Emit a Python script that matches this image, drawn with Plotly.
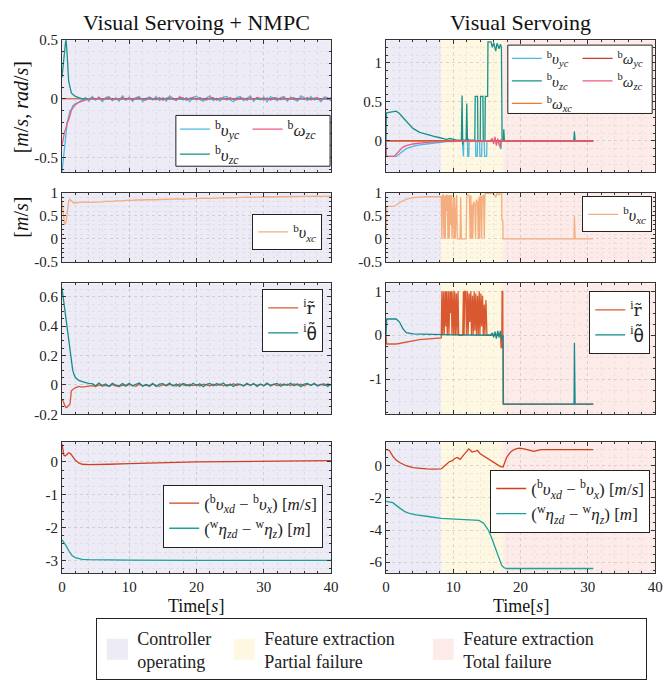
import plotly.graph_objects as go

W, H = 671, 685
FONT = "Liberation Serif"

# ---------------- data: left column (Visual Servoing + NMPC) ----------------
tL = [0, 0.2, 0.4, 0.6, 0.8, 1.0, 1.2, 1.4, 1.6, 1.8, 2.0, 2.5, 3.0, 3.5, 4.0,
      4.5, 5.0, 5.5, 6.0, 6.5, 7.0, 7.5, 8.0, 8.5, 9.0, 9.5, 10.0,
      10.5, 11.0, 11.5, 12.0, 12.5, 13.0, 13.5, 14.0, 14.5, 15.0, 15.5, 16.0,
      16.5, 17.0, 17.5, 18.0, 18.5, 19.0, 19.5, 20.0, 20.5, 21.0, 21.5, 22.0,
      22.5, 23.0, 23.5, 24.0, 24.5, 25.0, 25.5, 26.0, 26.5, 27.0, 27.5, 28.0,
      28.5, 29.0, 29.5, 30.0, 30.5, 31.0, 31.5, 32.0, 32.5, 33.0, 33.5, 34.0,
      34.5, 35.0, 35.5, 36.0, 36.5, 37.0, 37.5, 38.0, 38.5, 39.0, 39.5, 40.0]

vyc_L = [-0.63, -0.5, -0.38, -0.3, -0.2, -0.15, -0.1, -0.09, -0.06, -0.05, -0.04, -0.03, -0.01, 0.01, -0.02,
         0.02, -0.01, 0.015, -0.025, 0.01, 0.02, -0.015, 0.005, -0.02, 0.025, -0.01, 0.015,
         -0.02, 0.01, 0.02, -0.025, 0.005, 0.015, -0.01, 0.02, -0.015, 0.01, -0.02, 0.025,
         0.005, -0.015, 0.02, -0.01, 0.01, -0.025, 0.015, 0.02, -0.005, -0.02, 0.01, 0.025,
         -0.015, 0.005, -0.02, 0.015, 0.02, -0.01, -0.025, 0.01, 0.02, -0.015, 0.005, 0.025,
         -0.02, 0.01, -0.01, 0.015, -0.025, 0.02, 0.005, -0.015, 0.01, 0.02, -0.02, 0.015,
         -0.005, -0.02, 0.025, 0.01, -0.015, 0.02, -0.01, 0.005, -0.025, 0.015, 0.01, -0.02]

wzc_L = [-0.4, -0.33, -0.28, -0.25, -0.2, -0.18, -0.13, -0.1, -0.08, -0.06, -0.05, -0.03, -0.02, -0.01, -0.005,
         0.01, -0.008, 0.012, -0.01, 0.005, 0.01, -0.012, 0.008, -0.005, 0.012, -0.01, 0.006,
         -0.012, 0.008, 0.01, -0.006, -0.01, 0.012, 0.004, -0.008, 0.01, -0.012, 0.006, 0.01,
         -0.004, -0.01, 0.012, 0.008, -0.012, 0.005, 0.01, -0.008, 0.012, -0.005, -0.01, 0.008,
         0.01, -0.012, 0.006, 0.008, -0.01, 0.012, -0.006, -0.008, 0.01, 0.004, -0.012, 0.01,
         -0.008, 0.012, 0.005, -0.01, 0.008, -0.012, 0.01, 0.006, -0.008, 0.012, -0.01, 0.005,
         0.01, -0.012, 0.008, -0.004, 0.012, -0.01, 0.006, 0.01, -0.012, 0.008, -0.006, 0.01]

tL_fast = [0, 0.2, 0.4, 0.6, 0.8, 1.0, 1.2, 1.4, 1.6, 1.8, 2.0, 2.5, 3.0, 3.5, 4.0, 40.0]
vzc_L = [0.18, 0.3, 0.45, 0.52, 0.35, 0.15, 0.1, 0.05, 0.04, 0.03, 0.02, 0.01, 0.0, 0.0, 0.0, 0.0]

t_ref_L = [0, 40]
wyc_L = [0, 0]

vxc_L = [0.8, 0.55, 0.3, 0.35, 0.6, 0.82, 0.85, 0.82, 0.8, 0.77, 0.78, 0.79, 0.8, 0.8, 0.79,
         0.79, 0.8, 0.795, 0.8, 0.81, 0.805, 0.81, 0.82, 0.815, 0.82, 0.83, 0.825,
         0.83, 0.84, 0.835, 0.84, 0.845, 0.84, 0.85, 0.845, 0.85, 0.855, 0.85, 0.86,
         0.855, 0.86, 0.865, 0.86, 0.87, 0.865, 0.87, 0.875, 0.87, 0.875, 0.88, 0.875,
         0.88, 0.885, 0.88, 0.885, 0.89, 0.885, 0.89, 0.895, 0.89, 0.895, 0.9, 0.895,
         0.9, 0.905, 0.9, 0.905, 0.91, 0.905, 0.91, 0.905, 0.91, 0.915, 0.91, 0.915,
         0.915, 0.92, 0.915, 0.92, 0.92, 0.925, 0.92, 0.925, 0.92, 0.925, 0.93, 0.925]

r_L = [-0.1, -0.11, -0.14, -0.155, -0.15, -0.14, -0.13, -0.04, -0.03, -0.025, -0.02, -0.01, -0.015, -0.01, -0.01,
       -0.005, -0.012, 0.0, -0.008, -0.003, -0.01, 0.002, -0.006, -0.012, -0.002, -0.008, 0.003,
       -0.004, -0.01, 0.004, -0.006, -0.002, -0.009, 0.005, -0.004, -0.01, 0.002, -0.006, 0.004,
       -0.003, -0.008, 0.006, -0.002, -0.007, 0.004, -0.005, 0.003, -0.008, 0.005, -0.002, -0.006,
       0.004, -0.004, 0.006, -0.007, 0.002, -0.003, 0.007, -0.005, 0.003, -0.006, 0.005, -0.002,
       0.006, -0.004, 0.003, -0.006, 0.007, -0.002, 0.004, -0.005, 0.006, -0.003, 0.005, -0.004,
       0.007, -0.002, 0.004, -0.006, 0.005, -0.001, 0.006, -0.004, 0.003, -0.005, 0.006, 0.0]

th_L = [0.66, 0.6, 0.52, 0.45, 0.38, 0.3, 0.22, 0.15, 0.1, 0.07, 0.05, 0.03, 0.02, 0.015, 0.01,
        0.008, -0.006, 0.012, -0.004, 0.006, -0.01, 0.01, -0.002, -0.008, 0.009, -0.005, 0.011,
        -0.007, 0.004, 0.012, -0.009, 0.003, -0.006, 0.01, -0.011, 0.005, 0.008, -0.004, 0.012,
        -0.008, 0.006, -0.01, 0.009, 0.002, -0.007, 0.011, -0.005, 0.007, -0.012, 0.004, 0.01,
        -0.006, 0.009, -0.003, 0.012, -0.009, 0.005, -0.011, 0.007, 0.003, -0.008, 0.011, -0.004,
        0.009, -0.01, 0.006, -0.005, 0.012, -0.007, 0.004, 0.01, -0.009, 0.006, -0.003, 0.011,
        -0.006, 0.008, -0.012, 0.005, 0.009, -0.004, 0.01, -0.008, 0.003, 0.007, -0.01, 0.004]

t_e1_L = [0, 0.1, 0.3, 0.5, 0.8, 1.0, 1.3, 1.6, 2.0, 2.5, 3.0, 4.0, 5.0, 7.0, 10, 15, 20, 25, 30, 35, 40]
e1_L = [0.55, 0.4, 0.2, 0.18, 0.25, 0.28, 0.25, 0.15, 0.05, -0.03, -0.07, -0.08, -0.08, -0.07, -0.05,
        -0.02, 0.0, 0.01, 0.02, 0.03, 0.04]
t_e2_L = [0, 0.3, 0.6, 1.0, 1.5, 2.0, 2.5, 3.0, 4.0, 6.0, 10, 20, 30, 40]
e2_L = [-2.37, -2.45, -2.55, -2.7, -2.85, -2.92, -2.95, -2.97, -2.98, -2.99, -2.99, -3.0, -3.0, -3.0]

# ---------------- data: right column (Visual Servoing) ----------------
t_vyc_R = [0, 0.05, 1.5, 2.0, 2.5, 3.0, 4.0, 5.0, 6.0, 7.0,
           8.0, 9.0, 10.0, 10.5, 11.35, 11.4, 11.5, 11.55, 12.1, 12.15,
           12.3, 12.35, 13.3, 13.35, 13.55, 13.6, 13.9, 13.95, 14.2, 14.25,
           14.6, 14.65, 14.95, 15.0, 16.9, 17.0, 17.1, 17.15, 30.8]
vyc_R = [0, -0.2, -0.2, -0.17, -0.13, -0.1, -0.07, -0.05, -0.04, -0.03,
         -0.02, -0.01, -0.01, 0.0, 0.0, -0.2, -0.2, 0.0, 0.0, -0.2,
         -0.2, 0.0, 0.0, -0.2, -0.2, 0.0, 0.0, -0.2, -0.2, 0.0,
         0.0, -0.2, -0.2, 0.0, 0.0, -0.1, -0.1, 0.0, 0.0]

t_vzc_R = [0, 0.05, 1.5, 2.0, 2.5, 3.0, 3.5, 4.0, 5.0, 6.0,
           7.0, 8.0, 8.5, 9.0, 9.5, 10.0, 10.5, 11.2, 11.3, 11.4,
           11.5, 11.9, 12.0, 12.1, 12.2, 12.3, 13.2, 13.25, 13.6, 13.65,
           14.0, 14.05, 14.4, 14.45, 14.7, 14.75, 15.1, 15.15, 15.6, 15.8,
           16.0, 16.3, 16.5, 16.8, 17.0, 17.15, 17.25, 17.45, 17.5, 17.6,
           27.9, 28.0, 28.1, 30.8]
vzc_R = [0, 0.36, 0.38, 0.35, 0.3, 0.25, 0.2, 0.16, 0.11, 0.08,
         0.06, 0.04, 0.03, 0.02, 0.03, 0.02, 0.01, 0.01, 0.58, -0.05,
         0.01, 0.01, 0.48, 0.0, 0.02, 0.01, 0.01, 0.57, 0.57, 0.0,
         0.0, 0.57, 0.57, 0.0, 0.0, 0.57, 0.57, 1.27, 1.27, 1.2,
         1.26, 1.15, 1.25, 1.18, 1.24, 1.2, 0.0, 0.0, 0.15, 0.0,
         0.0, 0.12, 0.0, 0.0]

t_flat_R = [0, 30.8]
wxc_R = [0, 0]
wyc_R = [0, 0]

t_wzc_R = [0, 0.05, 1.2, 1.8, 2.5, 3.0, 4.0, 6.0, 8.0, 10, 15.5, 15.8, 16.0, 16.2, 16.4, 16.6, 16.8, 17.0, 17.1, 17.3, 30.8]
wzc_R = [0, -0.2, -0.2, -0.15, -0.08, -0.06, -0.04, -0.02, -0.01, 0, 0, 0.03, -0.04, 0.05, -0.06, 0.03, -0.05, -0.08, 0.02, 0, 0]

t_vxc_R = [0, 0.1, 1.2, 2.0, 3.0, 4.0, 5.0, 6.0, 8.2,
           8.3, 8.4, 8.5, 8.6, 8.7, 8.8, 8.9, 9.0, 9.1, 9.2,
           9.3, 9.4, 9.5, 9.6, 9.7, 9.8, 9.9, 10.0, 10.1, 10.2,
           10.3, 10.5, 10.6, 11.0, 11.1, 11.2, 11.9, 12.0, 12.2, 12.4,
           12.5, 12.6, 12.7, 12.8, 12.9, 13.0, 13.2, 13.3, 13.4, 13.6,
           13.7, 13.8, 13.9, 14.0, 14.1, 14.2, 14.3, 14.5, 14.6, 14.7,
           14.8, 15.5, 15.8, 16.0, 16.3, 16.5, 16.8, 17.0, 17.2, 17.22,
           17.35, 17.4, 27.95, 28.0, 28.1, 30.8]
vxc_R = [0, 0.7, 0.7, 0.78, 0.86, 0.89, 0.9, 0.91, 0.91,
         0, 0.95, 0.95, 0, 0.93, 0, 0.95, 0.6, 0.95, 0,
         0.94, 0, 0.95, 0.3, 0.95, 0, 0.92, 0.95, 0, 0.9,
         0, 0.95, 0, 0, 0.9, 0, 0, 0.92, 0.95, 0.9,
         0, 0.95, 0, 0.75, 0, 0.8, 0.75, 0, 0.85, 0.8,
         0, 0.9, 0, 0.95, 0.9, 0, 0.92, 0.95, 0, 0.95,
         0.99, 0.98, 1.0, 0.97, 0.9, 0.99, 0.95, 0.97, 0.97, 0.42,
         0.4, 0, 0, 0.5, 0, 0]

t_r_R = [0, 0.1, 1.5, 3.0, 5.0, 8.2,
         8.3, 8.4, 8.55, 8.65, 8.8, 8.9, 9.0, 9.1, 9.25, 9.35,
         9.5, 9.6, 9.7, 9.8, 9.95, 10.05, 10.2, 10.3, 10.45, 10.55,
         10.7, 10.8, 11.4, 11.5, 11.6, 11.7, 11.85, 11.95, 12.1, 12.2,
         12.35, 12.45, 12.6, 12.7, 12.85, 12.95, 13.1, 13.2, 13.35, 13.45,
         13.6, 13.7, 13.85, 13.95, 14.1, 14.2, 14.35, 14.45, 14.6, 14.7,
         14.85, 15.0, 17.0, 17.1, 17.2, 17.25, 17.35, 17.4, 30.8]
r_R = [0, -0.2, -0.2, -0.15, -0.1, -0.06,
       1.0, 0.0, 1.0, 0.0, 1.0, 0.2, 1.0, 0.0, 1.0, 0.0,
       1.0, 0.5, 1.0, 0.0, 1.0, 0.0, 1.0, 0.0, 0.95, 0.0,
       1.0, 0.0, 0.0, 1.0, 0.0, 1.0, 1.0, 0.0, 1.0, 0.0,
       0.95, 0.3, 1.0, 0.0, 0.9, 0.0, 1.0, 0.1, 0.95, 0.0,
       0.9, 0.0, 1.0, 0.0, 0.95, 0.2, 0.9, 0.0, 0.7, 0.0,
       0.8, 0.0, 0.0, -0.28, -0.28, 1.0, 1.0, -1.57, -1.57]

t_th_R = [0, 0.1, 1.5, 2.0, 2.5, 3.0, 4.0, 6.0, 8.0, 10.0, 15.5, 15.8, 16.0, 16.2, 16.4, 16.6, 16.8,
          17.0, 17.2, 17.4, 17.45, 27.95, 28.0, 28.1, 30.8]
th_R = [0, 0.37, 0.37, 0.3, 0.15, 0.06, 0.03, 0.02, 0.02, 0.01, 0.0, 0.05, -0.05, 0.08, -0.08, 0.1, -0.05,
        0.1, -0.1, 0.0, -1.57, -1.57, -0.17, -1.57, -1.57]

t_e1_R = [0, 0.5, 1.0, 1.5, 2.0, 3.0, 4.0, 5.0, 6.0, 7.0,
          8.2, 8.6, 9.0, 9.4, 9.8, 10.2, 10.6, 11.0, 11.4, 11.8,
          12.3, 12.8, 13.2, 13.6, 14.0, 14.5, 15.0, 15.5, 16.0, 16.5,
          17.0, 17.4, 17.9, 18.4, 18.8, 19.3, 19.8, 20.5, 21.2, 22.0,
          23.0, 25.0, 28.0, 30.8]
e1_R = [1.0, 0.95, 0.6, 0.35, 0.2, 0.0, -0.12, -0.18, -0.2, -0.21,
        -0.2, -0.05, 0.12, 0.25, 0.3, 0.45, 0.52, 0.4, 0.6, 0.78,
        1.05, 0.85, 0.9, 0.95, 0.75, 0.62, 0.45, 0.35, 0.2, 0.05,
        -0.05, -0.08, 0.5, 0.8, 0.95, 1.05, 1.1, 1.05, 0.98, 0.9,
        1.0, 1.0, 1.0, 1.0]
t_e2_R = [0, 1.0, 2.0, 2.8, 3.5, 4.5, 6.0, 8.2, 11.0, 13.8, 14.5, 15.2, 15.7, 16.2, 16.6, 16.9, 17.2, 17.5, 17.9, 30.8]
e2_R = [-2.22, -2.3, -2.62, -2.85, -2.97, -3.06, -3.14, -3.27, -3.33, -3.4, -3.57, -4.0, -4.5, -5.06, -5.55,
        -5.9, -6.2, -6.33, -6.39, -6.39]

# phases (background regions)
phase_names = ["Controller<br>operating", "Feature extraction<br>Partial failure", "Feature extraction<br>Total failure"]
phase_start_L = [0]
phase_end_L = [40]
phase_start_R = [0, 8.2, 17.4]
phase_end_R = [8.2, 17.4, 40]

# axis ticks
x_ticks = [0, 10, 20, 30, 40]
x_ticktext = ["0", "10", "20", "30", "40"]
y_ticks = {1: [-0.5, 0, 0.5], 2: [0, 0.5, 1], 3: [-0.5, 0, 0.5, 1], 4: [-0.5, 0, 0.5, 1],
           5: [-0.2, 0, 0.2, 0.4, 0.6], 6: [-1, 0, 1], 7: [-3, -2, -1, 0], 8: [-6, -4, -2, 0]}
y_ticktext = {1: ["-0.5", "0", "0.5"], 2: ["0", "0.5", "1"], 3: ["-0.5", "0", "0.5", "1"],
              4: ["-0.5", "0", "0.5", "1"], 5: ["-0.2", "0", "0.2", "0.4", "0.6"], 6: ["-1", "0", "1"],
              7: ["-3", "-2", "-1", "0"], 8: ["-6", "-4", "-2", "0"]}

# ---------------- styling ----------------
phase_colors = ["#ecebf6", "#fef8e3", "#fcebe8"]
phase_legend_widths = [82, 154, 178]
C = dict(vyc="#4db8e6", vzc="#17918a", wxc="#f07b2f", wyc="#c8402a", wzc="#ec5a7c",
         vxc="#f4ad7f", r="#d9582f", th="#15898c", e1="#d0401f", e2="#18a39c")
y_ranges = {1: [-0.625, 0.5], 2: [-0.4, 1.29], 3: [-0.5, 1], 4: [-0.5, 1],
            5: [-0.2, 0.69], 6: [-1.8, 1.18], 7: [-3.4, 0.62], 8: [-6.7, 1.5]}
y_minor = {1: 0.1, 2: 0.1, 3: 0.1, 4: 0.1, 5: 0.05, 6: 0.25, 7: 0.25, 8: 0.5}

col_px = [(59, 333), (389, 663)]
row_px = [(33, 168), (189, 260), (282, 416), (444, 579)]


def axn(k):
    return "" if k == 1 else str(k)


fig = go.Figure()


def lab(sup, base, sub):
    return f"<sup>{sup}</sup><i>{base}</i><sub><i>{sub}</i></sub>"


def til(base, fam):
    return "<sup>i</sup><span style='font-family:" + fam + "'>" + base + "</span>"


R_TIL = til("r\u0303", "DejaVu Serif")
TH_TIL = til("\u03b8\u0303", "DejaVu Sans")


def add(t, y, k, name, color, legend, show=True, width=1.3):
    fig.add_trace(go.Scatter(x=t, y=y, mode="lines", name=name, line=dict(color=color, width=width),
                             xaxis="x" + axn(k), yaxis="y" + axn(k), legend=legend, showlegend=show,
                             hoverinfo="skip"))


E1 = "(" + lab("b", "υ", "xd") + " − " + lab("b", "υ", "x") + ") [<i>m</i>/<i>s</i>]"
E2 = "(" + lab("w", "η", "zd") + " − " + lab("w", "η", "z") + ") [<i>m</i>]"

# left column
add(t_ref_L, wyc_L, 1, lab("b", "ω", "yc"), C["wyc"], "legend2", show=False, width=1.0)
add(tL, vyc_L, 1, lab("b", "υ", "yc"), C["vyc"], "legend2")
add(tL_fast, vzc_L, 1, lab("b", "υ", "zc"), C["vzc"], "legend2")
add(tL, wzc_L, 1, lab("b", "ω", "zc"), C["wzc"], "legend3")
add(tL, vxc_L, 3, lab("b", "υ", "xc"), C["vxc"], "legend4")
add(tL, r_L, 5, R_TIL, C["r"], "legend5")
add(tL, th_L, 5, TH_TIL, C["th"], "legend5")
add(t_e1_L, e1_L, 7, E1, C["e1"], "legend6")
add(t_e2_L, e2_L, 7, E2, C["e2"], "legend6")

# right column
add(t_vyc_R, vyc_R, 2, lab("b", "υ", "yc"), C["vyc"], "legend7")
add(t_vzc_R, vzc_R, 2, lab("b", "υ", "zc"), C["vzc"], "legend7")
add(t_flat_R, wxc_R, 2, lab("b", "ω", "xc"), C["wxc"], "legend7")
add(t_flat_R, wyc_R, 2, lab("b", "ω", "yc"), C["wyc"], "legend8")
add(t_wzc_R, wzc_R, 2, lab("b", "ω", "zc"), C["wzc"], "legend8")
add(t_vxc_R, vxc_R, 4, lab("b", "υ", "xc"), C["vxc"], "legend9")
add(t_r_R, r_R, 6, R_TIL, C["r"], "legend10")
add(t_th_R, th_R, 6, TH_TIL, C["th"], "legend10")
add(t_e1_R, e1_R, 8, E1, C["e1"], "legend11")
add(t_e2_R, e2_R, 8, E2, C["e2"], "legend11")

# phase legend entries
for name, col, lw in zip(phase_names, phase_colors, phase_legend_widths):
    fig.add_trace(go.Scatter(x=[None], y=[None], mode="markers", name=name, legendwidth=lw,
                             marker=dict(symbol="square", size=16, color=col, line=dict(color=col, width=5)),
                             xaxis="x", yaxis="y", legend="legend", showlegend=True, hoverinfo="skip"))

layout = dict(width=W, height=H, margin=dict(l=0, r=0, t=0, b=0),
              paper_bgcolor="white", plot_bgcolor="white", showlegend=True,
              font=dict(family=FONT, size=14, color="#222"))

shapes = []
grid = "rgba(150,150,150,0.22)"
grid_minor = "rgba(150,150,150,0.13)"
for r in range(4):
    for c in range(2):
        k = 2 * r + c + 1
        x0, x1 = col_px[c]
        y0, y1 = row_px[r]
        layout["xaxis" + axn(k)] = dict(
            domain=[x0 / W, x1 / W], anchor="y" + axn(k), range=[0, 40],
            tickvals=x_ticks, ticktext=x_ticktext, showticklabels=(r == 3),
            ticks="inside", ticklen=4, tickcolor="#333", showline=True, linecolor="#333",
            linewidth=1, mirror="allticks", zeroline=False,
            showgrid=True, gridcolor=grid, griddash="dot", gridwidth=1,
            tickfont=dict(family=FONT, size=15, color="#222"),
            minor=dict(dtick=2, ticks="inside", ticklen=2, tickcolor="#333",
                       showgrid=True, gridcolor=grid_minor, griddash="dot"))
        layout["yaxis" + axn(k)] = dict(
            domain=[1 - y1 / H, 1 - y0 / H], anchor="x" + axn(k), range=y_ranges[k],
            tickvals=y_ticks[k], ticktext=y_ticktext[k],
            ticks="inside", ticklen=4, tickcolor="#333", showline=True, linecolor="#333",
            linewidth=1, mirror="allticks", zeroline=False,
            showgrid=True, gridcolor=grid, griddash="dot", gridwidth=1,
            tickfont=dict(family=FONT, size=15, color="#222"),
            minor=dict(dtick=y_minor[k], ticks="inside", ticklen=2, tickcolor="#333",
                       showgrid=True, gridcolor=grid_minor, griddash="dot"))
        starts = phase_start_L if c == 0 else phase_start_R
        ends = phase_end_L if c == 0 else phase_end_R
        for i, (a, b) in enumerate(zip(starts, ends)):
            shapes.append(dict(type="rect", xref="x" + axn(k), yref="y" + axn(k) + " domain",
                               x0=a, x1=b, y0=0, y1=1,
                               fillcolor=phase_colors[i], line=dict(width=0), layer="below"))

# boxes for the two-column legends
for (bx0, by0, bx1, by1) in [(175, 110, 332, 162), (513, 38, 660, 108)]:
    shapes.append(dict(type="rect", xref="paper", yref="paper", x0=bx0 / W, x1=bx1 / W,
                       y0=1 - by1 / H, y1=1 - by0 / H, fillcolor="white",
                       line=dict(color="#222", width=1), layer="above"))
layout["shapes"] = shapes


def leg(xp, yp, xanchor="left", box=True, size=17):
    return dict(x=xp / W, y=1 - yp / H, xanchor=xanchor, yanchor="top", xref="paper", yref="paper",
                font=dict(family=FONT, size=size, color="#222"),
                bgcolor="white" if box else "rgba(0,0,0,0)",
                bordercolor="#222", borderwidth=1 if box else 0, tracegroupgap=0, itemwidth=30)


layout["legend2"] = leg(174, 106, box=False)
layout["legend3"] = leg(248, 106, box=False)
layout["legend4"] = leg(324, 211, xanchor="right", size=16)
layout["legend5"] = leg(325, 288, xanchor="right")
layout["legend6"] = leg(325, 488, xanchor="right")
layout["legend7"] = leg(512, 35, box=False, size=15)
layout["legend8"] = leg(584, 35, box=False, size=15)
layout["legend9"] = leg(660, 193, xanchor="right", size=16)
layout["legend10"] = leg(658, 290, xanchor="right")
layout["legend11"] = leg(658, 473, xanchor="right")
layout["legend"] = dict(x=94 / W, y=1 - 625 / H, xanchor="left", yanchor="top", orientation="h",
                        xref="paper", yref="paper", font=dict(family=FONT, size=18, color="#222"),
                        bgcolor="white", bordercolor="#222", borderwidth=1, itemwidth=30,
                        itemsizing="trace", valign="middle")

ann = []
ann.append(dict(text="Visual Servoing + NMPC", x=196 / W, y=1 - 15 / H, xref="paper", yref="paper",
                showarrow=False, font=dict(family=FONT, size=22, color="#111"),
                xanchor="center", yanchor="middle"))
ann.append(dict(text="Visual Servoing", x=526 / W, y=1 - 15 / H, xref="paper", yref="paper",
                showarrow=False, font=dict(family=FONT, size=22, color="#111"),
                xanchor="center", yanchor="middle"))
ann.append(dict(text="[<i>m</i>/<i>s</i>, <i>rad</i>/<i>s</i>]", x=17 / W, y=1 - 102 / H, xref="paper",
                yref="paper", showarrow=False, textangle=-90, xanchor="center", yanchor="middle",
                font=dict(family=FONT, size=20, color="#111")))
ann.append(dict(text="[<i>m</i>/<i>s</i>]", x=17 / W, y=1 - 214 / H, xref="paper",
                yref="paper", showarrow=False, textangle=-90, xanchor="center", yanchor="middle",
                font=dict(family=FONT, size=20, color="#111")))
for cx in (196, 526):
    ann.append(dict(text="Time[<i>s</i>]", x=cx / W, y=1 - 612 / H, xref="paper", yref="paper",
                    showarrow=False, font=dict(family=FONT, size=18, color="#111"),
                    xanchor="center", yanchor="middle"))
layout["annotations"] = ann

fig.update_layout(**layout)
fig.write_html("out.html", config={"displayModeBar": False},
               post_script="document.body.style.margin='0';document.body.style.overflow='hidden';")
